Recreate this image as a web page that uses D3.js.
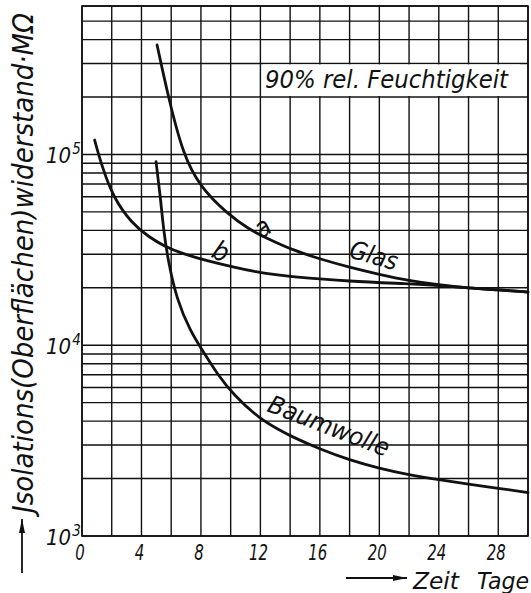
<!DOCTYPE html>
<html>
<head>
<meta charset="utf-8">
<script src="https://cdn.jsdelivr.net/npm/d3@7"></script>
<style>
  body { margin: 0; background: #fff; }
  text { font-family: "DejaVu Sans Condensed", "DejaVu Sans", sans-serif; font-style: italic; fill: #111; }
</style>
</head>
<body>
<div id="chart"></div>
<script>
// x tick labels (Zeit, Tage) and y decades (10^n MΩ)
const xLabels = [0, 4, 8, 12, 16, 20, 24, 28]
const yDecades = [3, 4, 5]

// curve a (Glas)
const glasADays = [5.05, 5.8, 6.8, 7.94, 9.73, 11.3, 12.4, 14, 16, 18, 20, 22, 24, 26, 28, 30]
const glasAValues = [374800, 200800, 99400, 67800, 49200, 40200, 36500, 31900, 28300, 25600, 23500, 21800, 20700, 19950, 19500, 19000]

// curve b (Glas)
const glasBDays = [0.85, 1.35, 2.13, 3.36, 4.48, 5.6, 6.73, 8.15, 12, 14, 18, 22, 24, 26, 28, 30]
const glasBValues = [119000, 86000, 58900, 43500, 37000, 32800, 30300, 28000, 23800, 22900, 21600, 21000, 20600, 19950, 19500, 19000]

// Baumwolle
const baumDays = [4.98, 5.27, 5.49, 5.78, 6.37, 7.3, 8.16, 9.06, 10.18, 11.97, 13.3, 14, 16, 18, 20, 22, 24, 26, 28, 30]
const baumValues = [91600, 60000, 40100, 28000, 17300, 11800, 9250, 7130, 5500, 4100, 3590, 3350, 2850, 2500, 2260, 2090, 1970, 1870, 1780, 1690]

const width = 531
const height = 593
const m = { left: 82, right: 528, top: 6, bottom: 536 }

const svg = d3.select('#chart')
  .append('svg')
  .attr('width', width)
  .attr('height', height)

const x = d3.scaleLinear().domain([0, 30]).range([m.left, m.right])
const y = d3.scaleLog().domain([1e3, 6e5]).range([m.bottom, m.top])

const defs = svg.append('defs')
defs.append('marker')
  .attr('id', 'head')
  .attr('viewBox', '0 0 14 6')
  .attr('refX', 14)
  .attr('refY', 3)
  .attr('markerWidth', 14)
  .attr('markerHeight', 6)
  .attr('markerUnits', 'userSpaceOnUse')
  .attr('orient', 'auto')
  .append('path')
  .attr('d', 'M0,0 L14,3 L0,6 Z')
  .attr('fill', '#111')

// grid
const grid = svg.append('g')
  .attr('stroke', '#111')
  .attr('stroke-width', 1.4)

grid.selectAll('line.v')
  .data(x.ticks(15))
  .enter()
  .append('line')
  .attr('x1', d => x(d))
  .attr('x2', d => x(d))
  .attr('y1', m.top)
  .attr('y2', m.bottom)

grid.selectAll('line.h')
  .data(y.ticks())
  .enter()
  .append('line')
  .attr('x1', m.left)
  .attr('x2', m.right)
  .attr('y1', d => y(d))
  .attr('y2', d => y(d))

svg.append('rect')
  .attr('x', m.left)
  .attr('y', m.top)
  .attr('width', m.right - m.left)
  .attr('height', m.bottom - m.top)
  .attr('fill', 'none')
  .attr('stroke', '#111')
  .attr('stroke-width', 1.6)

// blank band behind the humidity note
svg.append('rect')
  .attr('x', 263)
  .attr('y', y(3e5) + 1)
  .attr('width', 257)
  .attr('height', y(2e5) - y(3e5) - 2)
  .attr('fill', '#fff')

svg.append('text')
  .attr('x', 265)
  .attr('y', 88)
  .attr('font-size', 25)
  .attr('textLength', 243)
  .attr('lengthAdjust', 'spacingAndGlyphs')
  .text('90% rel. Feuchtigkeit')

// curves
const line = d3.line()
  .x(d => x(d[0]))
  .y(d => y(d[1]))
  .curve(d3.curveBasis)

const series = [
  d3.zip(glasADays, glasAValues),
  d3.zip(glasBDays, glasBValues),
  d3.zip(baumDays, baumValues)
]

svg.append('g')
  .selectAll('path')
  .data(series)
  .enter()
  .append('path')
  .attr('d', line)
  .attr('fill', 'none')
  .attr('stroke', '#111')
  .attr('stroke-width', 2.8)
  .attr('stroke-linecap', 'round')

// curve labels
const label = (txt, px, py, rot, size, len, mid) => {
  const t = svg.append('text')
    .attr('transform', `translate(${px},${py}) rotate(${rot})`)
    .attr('font-size', size)
    .text(txt)
  if (len) t.attr('textLength', len).attr('lengthAdjust', 'spacingAndGlyphs')
  if (mid) t.attr('text-anchor', 'middle').attr('dy', '0.36em')
  return t
}
label('a', 262, 227, -35, 27, null, true)
label('b', 221, 251, 25, 27, null, true)
label('Glas', 348, 257, 16, 25, 49)
label('Baumwolle', 266, 411, 21, 25, 128)

// x tick labels
svg.append('g')
  .selectAll('text')
  .data(xLabels)
  .enter()
  .append('text')
  .attr('x', d => x(d) - 2)
  .attr('y', 560)
  .attr('text-anchor', 'middle')
  .attr('font-size', 22)
  .attr('textLength', d => String(d).length * 9.5)
  .attr('lengthAdjust', 'spacingAndGlyphs')
  .text(d => d)

// y tick labels 10^n
const yl = svg.append('g')
  .selectAll('text')
  .data(yDecades)
  .enter()
  .append('text')
  .attr('x', 46)
  .attr('y', d => y(Math.pow(10, d)) + 8.5)
  .attr('font-size', 22)
yl.append('tspan')
  .text('10')
yl.append('tspan')
  .attr('dx', 1)
  .attr('dy', -8.5)
  .attr('font-size', 15)
  .text(d => d)

// axis titles
svg.append('text')
  .attr('transform', 'translate(33,513) rotate(-90)')
  .attr('font-size', 28)
  .attr('textLength', 500)
  .attr('lengthAdjust', 'spacingAndGlyphs')
  .text('Jsolations(Oberflächen)widerstand·MΩ')

svg.append('line')
  .attr('x1', 22).attr('y1', 573)
  .attr('x2', 22).attr('y2', 519)
  .attr('stroke', '#111')
  .attr('stroke-width', 1.8)
  .attr('marker-end', 'url(#head)')

svg.append('line')
  .attr('x1', 346).attr('y1', 578)
  .attr('x2', 407).attr('y2', 578)
  .attr('stroke', '#111')
  .attr('stroke-width', 1.8)
  .attr('marker-end', 'url(#head)')

svg.append('text')
  .attr('x', 413)
  .attr('y', 589)
  .attr('font-size', 23)
  .attr('textLength', 46)
  .attr('lengthAdjust', 'spacingAndGlyphs')
  .text('Zeit')

svg.append('text')
  .attr('x', 477)
  .attr('y', 589)
  .attr('font-size', 23)
  .attr('textLength', 52)
  .attr('lengthAdjust', 'spacingAndGlyphs')
  .text('Tage')
</script>
</body>
</html>
